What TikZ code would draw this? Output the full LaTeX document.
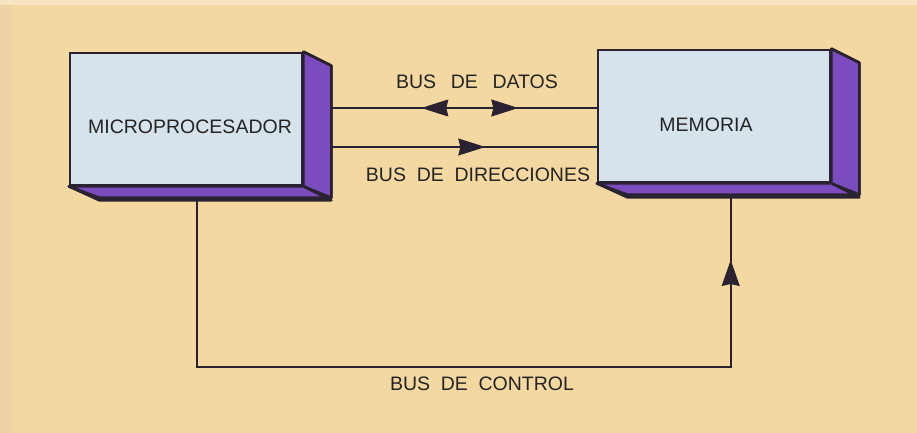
\documentclass[tikz,border=0pt]{standalone}
\usepackage{fontspec}
\setmainfont{Liberation Sans}
\usetikzlibrary{arrows.meta,calc}
\definecolor{bgcol}{HTML}{F4D8A2}
\definecolor{bgtop}{HTML}{F6E4C2}
\definecolor{bgleft}{HTML}{F1D2A6}
\definecolor{facecol}{HTML}{D6E3EB}
\definecolor{sidecol}{HTML}{7A4CBE}
\definecolor{inkcol}{HTML}{2A2230}
\definecolor{txtcol}{HTML}{242424}
\newcommand\wsp{\hspace{0.55em}}
\newcommand\wspw{\hspace{0.75em}}
\begin{document}
\begin{tikzpicture}[x=1pt,y=-1pt,
  front/.style={draw=inkcol,line width=2.6pt,fill=facecol,minimum width=232pt,minimum height=132pt,inner sep=0pt,line join=round},
  depth/.style={draw=inkcol,line width=2.6pt,fill=sidecol,line join=round},
  busline/.style={draw=inkcol,line width=1.6pt},
  tipa/.style={draw=inkcol,line width=1pt,-{Stealth[length=27pt,width=17pt,inset=2pt]}},
  tipv/.style={draw=inkcol,line width=1pt,-{Stealth[length=26pt,width=18pt,inset=2pt]}},
  lbl/.style={text=txtcol,font=\fontsize{19.5}{23}\selectfont,inner sep=0pt}]
% background
\fill[bgcol] (0,0) rectangle (917,433);
\fill[bgtop] (0,0) rectangle (917,5);
\fill[bgleft] (0,5) rectangle (12,433);
\useasboundingbox (0,0) rectangle (917,433);

% Microprocesador box
\node[front] (mp) at (186,119) {};
\fill[depth] (mp.north east) -- ++(28,14) -- ++(0,132) -- (mp.south east) -- cycle;
\fill[depth] (mp.south west) -- (mp.south east) -- ++(28,14) -- ++(-232,0) -- cycle;
\draw[depth,fill=none] (mp.north east) -- ++(28,14) -- ++(0,132) -- ++(-232,0) -- (mp.south west);
\node[front] at (mp.center) {};
\node[lbl] (mpt) at (190,127) {MICROPROCESADOR};

% Memoria box
\node[front] (mem) at (714,116) {};
\fill[depth] (mem.north east) -- ++(28,14) -- ++(0,132) -- (mem.south east) -- cycle;
\fill[depth] (mem.south west) -- (mem.south east) -- ++(28,14) -- ++(-232,0) -- cycle;
\draw[depth,fill=none] (mem.north east) -- ++(28,14) -- ++(0,132) -- ++(-232,0) -- (mem.south west);
\node[front] at (mem.center) {};
\node[lbl] (memt) at (706,125) {MEMORIA};

% connector end points
\coordinate (dA) at ($(mp.east)+(28,-11)$);
\coordinate (dB) at (mem.west |- dA);
\coordinate (aA) at ($(mp.east)+(28,28)$);
\coordinate (aB) at (mem.west |- aA);
\coordinate (cA) at ($(mp.south west)+(128,14)$);
\coordinate (cB) at (cA |- 0,367);
\coordinate (cD) at ($(mem.south west)+(134,14)$);
\coordinate (cC) at (cD |- cB);

% bus de datos
\draw[busline] (dA) -- (dB);
\draw[tipa] ($(dA)+(118,0)$) -- ($(dA)+(90,0)$);
\draw[tipa] ($(dA)+(157,0)$) -- ($(dA)+(187,0)$);
\node[lbl] (datos) at (477,82) {BUS\wspw DE\wspw DATOS};

% bus de direcciones
\draw[busline] (aA) -- (aB);
\draw[tipa] ($(aA)+(126,0)$) -- ($(aA)+(154,0)$);
\node[lbl] (dir) at (478,175) {BUS\wsp DE\wsp DIRECCIONES};

% bus de control
\draw[busline,line join=miter] (cA) -- (cB) -- (cC) -- (cD);
\draw[tipv] ($(cC)+(0,-80)$) -- ($(cC)+(0,-107)$);
\node[lbl] (ctl) at (482,384) {BUS\wsp DE\wsp CONTROL};
\end{tikzpicture}
\end{document}
